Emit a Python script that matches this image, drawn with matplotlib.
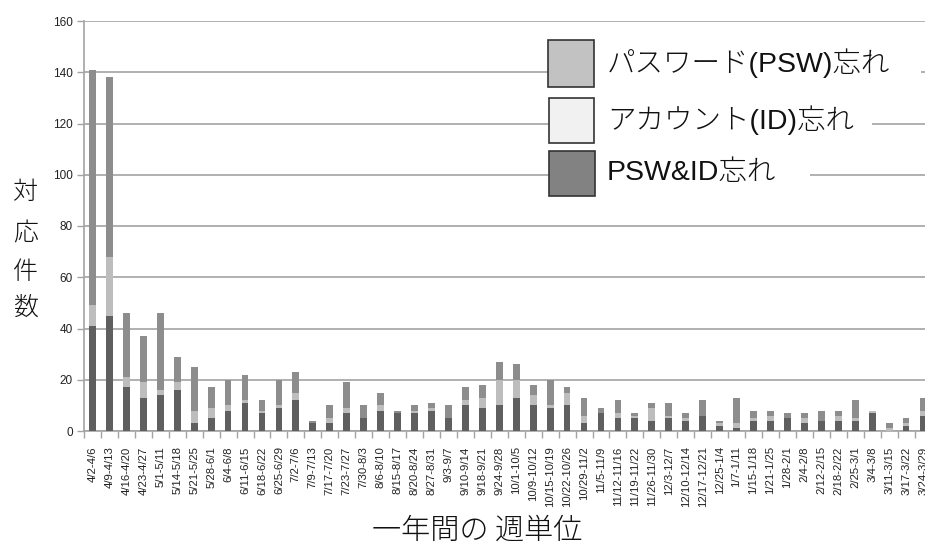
import matplotlib
matplotlib.use("Agg")
import matplotlib.pyplot as plt
from matplotlib.patches import Rectangle
import numpy as np

# Weekly periods
weeks = ["4/2-4/6", "4/9-4/13", "4/16-4/20", "4/23-4/27", "5/1-5/11", "5/14-5/18",
         "5/21-5/25", "5/28-6/1", "6/4-6/8", "6/11-6/15", "6/18-6/22", "6/25-6/29",
         "7/2-7/6", "7/9-7/13", "7/17-7/20", "7/23-7/27", "7/30-8/3", "8/6-8/10",
         "8/15-8/17", "8/20-8/24", "8/27-8/31", "9/3-9/7", "9/10-9/14", "9/18-9/21",
         "9/24-9/28", "10/1-10/5", "10/9-10/12", "10/15-10/19", "10/22-10/26",
         "10/29-11/2", "11/5-11/9", "11/12-11/16", "11/19-11/22", "11/26-11/30",
         "12/3-12/7", "12/10-12/14", "12/17-12/21", "12/25-1/4", "1/7-1/11",
         "1/15-1/18", "1/21-1/25", "1/28-2/1", "2/4-2/8", "2/12-2/15", "2/18-2/22",
         "2/25-3/1", "3/4-3/8", "3/11-3/15", "3/17-3/22", "3/24-3/29"]

# Counts per week for each inquiry type
both_forgot = [41, 45, 17, 13, 14, 16, 3, 5, 8, 11, 7, 9, 12, 3, 3, 7, 5, 8, 7, 7,
               8, 5, 10, 9, 10, 13, 10, 9, 10, 3, 7, 5, 5, 4, 5, 4, 6, 2, 1, 4,
               4, 5, 3, 4, 4, 4, 7, 0, 2, 6]
id_forgot = [8, 23, 4, 6, 2, 3, 5, 4, 2, 1, 1, 1, 3, 0, 2, 2, 0, 2, 0, 1,
             1, 0, 2, 4, 10, 7, 4, 1, 5, 3, 0, 2, 1, 5, 1, 1, 0, 1, 2, 1,
             2, 0, 2, 0, 2, 1, 1, 1, 1, 2]
psw_forgot = [92, 70, 25, 18, 30, 10, 17, 8, 10, 10, 4, 10, 8, 1, 5, 10, 5, 5, 1, 2,
              2, 5, 5, 5, 7, 6, 4, 10, 2, 7, 2, 5, 1, 2, 5, 2, 6, 1, 10, 3,
              2, 2, 2, 4, 2, 7, 0, 2, 2, 5]

y_ticks = [0, 20, 40, 60, 80, 100, 120, 140, 160]
legend_labels = ["パスワード(PSW)忘れ", "アカウント(ID)忘れ", "PSW&ID忘れ"]

W, H = 925, 545
fig = plt.figure(figsize=(W / 100, H / 100), dpi=100)
fig.patch.set_facecolor("white")

def fx(px):
    return px / W

def fy(py):
    return 1 - py / H

n = len(weeks)
# axes spans past the right edge so the last week is clipped
ax = fig.add_axes([fx(84), fy(431), fx(84 + n * 16.95) - fx(84), fy(21) - fy(431)])

x = np.arange(n)
b1 = np.array(both_forgot)
b2 = np.array(id_forgot)
b3 = np.array(psw_forgot)
bw = 0.40
ax.bar(x, b1, bw, color="#5f5f5f", zorder=3)
ax.bar(x, b2, bw, bottom=b1, color="#bdbdbd", zorder=3)
ax.bar(x, b3, bw, bottom=b1 + b2, color="#8d8d8d", zorder=3)

ax.set_xlim(-0.5, n - 0.5)
ax.set_ylim(0, 160)
ax.set_yticks(y_ticks)
ax.set_yticklabels([str(v) for v in y_ticks], fontfamily="Liberation Sans",
                   fontsize=8.5, color="#222222")
ax.yaxis.grid(True, color="#a3a3a3", linewidth=1.2, zorder=0)
ax.set_axisbelow(True)

ax.set_xticks(x)
ax.set_xticklabels(weeks, rotation=90, fontfamily="Liberation Sans",
                   fontsize=8.2, color="#222222", va="top", ha="center")
ax.set_xticks(np.arange(n + 1) - 0.5, minor=True)
ax.tick_params(axis="x", which="major", length=0, pad=11)
ax.tick_params(axis="x", which="minor", length=5, width=1, color="#a3a3a3",
               direction="out")
ax.tick_params(axis="y", length=5, width=1, color="#a3a3a3", direction="out", pad=3)

for side in ("top", "right"):
    ax.spines[side].set_visible(False)
for side in ("left", "bottom"):
    ax.spines[side].set_color("#a3a3a3")
    ax.spines[side].set_linewidth(1.2)

# vertical axis title, one character per row
jp = ["Noto Sans CJK JP", "DejaVu Sans"]
for ch, py in zip("対応件数", [192, 233, 272, 308]):
    fig.text(fx(26), fy(py), ch, fontfamily=jp, fontsize=18, fontweight="light",
             color="#111111", ha="center", va="center")

fig.text(fx(477), fy(515), "一年間の 週単位", fontfamily=jp, fontsize=21,
         fontweight="light", color="#111111", ha="center", va="top")

# legend entries laid over the grid lines
legend_font = ["Liberation Sans", "Noto Sans CJK JP"]
legend_colors = ["#c2c2c2", "#f1f1f1", "#828282"]
boxes = [(548, 40, 594, 87), (549, 98, 594, 143), (549, 151, 595, 196)]
text_y = [63, 120, 173]
cover_end = [921, 872, 810]
for lab, col, (x0, y0, x1, y1), ty, xe in zip(legend_labels, legend_colors, boxes,
                                              text_y, cover_end):
    fig.add_artist(Rectangle((fx(x0), fy(y1)), fx(xe) - fx(x0), fy(y0) - fy(y1),
                             transform=fig.transFigure, facecolor="white",
                             edgecolor="none", zorder=5))
    fig.add_artist(Rectangle((fx(x0), fy(y1)), fx(x1) - fx(x0), fy(y0) - fy(y1),
                             transform=fig.transFigure, facecolor=col,
                             edgecolor="#333333", linewidth=1.2, zorder=6))
    fig.text(fx(607), fy(ty), lab, fontfamily=legend_font, fontsize=20.5,
             fontweight="light", color="#111111", ha="left", va="center", zorder=7)

fig.savefig("out.png", dpi=100, facecolor="white")
